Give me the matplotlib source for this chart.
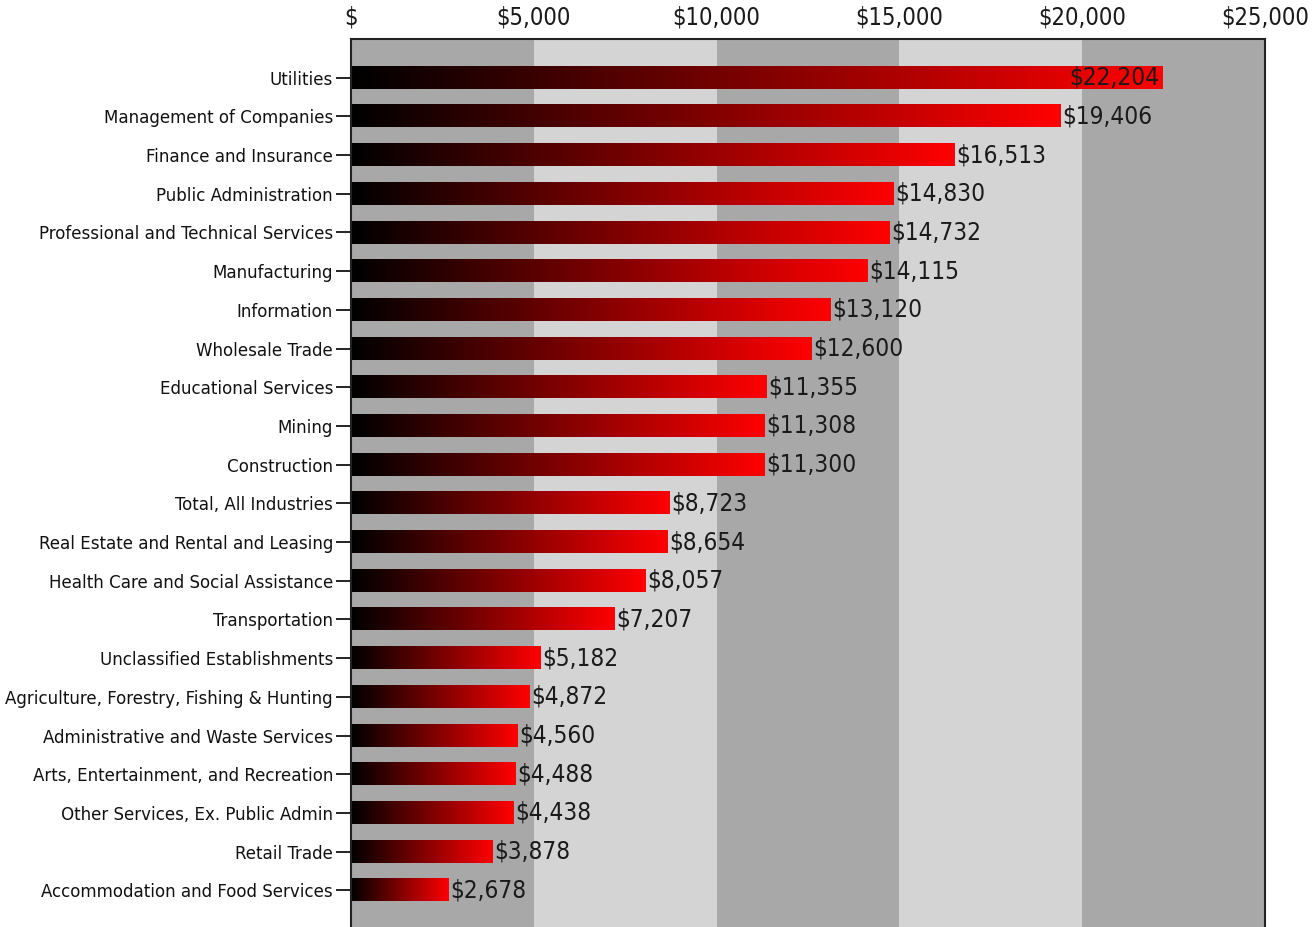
import numpy as np
import matplotlib
matplotlib.use("Agg")
import matplotlib.pyplot as plt
from matplotlib.colors import LinearSegmentedColormap
from matplotlib.ticker import FuncFormatter, MultipleLocator

plt.rcParams["font.family"] = ["DejaVu Sans"]
plt.rcParams["font.stretch"] = "condensed"

industries = [
    "Utilities",
    "Management of Companies",
    "Finance and Insurance",
    "Public Administration",
    "Professional and Technical Services",
    "Manufacturing",
    "Information",
    "Wholesale Trade",
    "Educational Services",
    "Mining",
    "Construction",
    "Total, All Industries",
    "Real Estate and Rental and Leasing",
    "Health Care and Social Assistance",
    "Transportation",
    "Unclassified Establishments",
    "Agriculture, Forestry, Fishing & Hunting",
    "Administrative and Waste Services",
    "Arts, Entertainment, and Recreation",
    "Other Services, Ex. Public Admin",
    "Retail Trade",
    "Accommodation and Food Services",
]
values = [22204, 19406, 16513, 14830, 14732, 14115, 13120, 12600, 11355, 11308,
          11300, 8723, 8654, 8057, 7207, 5182, 4872, 4560, 4488, 4438, 3878, 2678]

XMAX = 25000
BAND = 5000
BAR_H = 0.57
BAND_COLORS = ["#a8a8a8", "#d4d4d4"]

fade = LinearSegmentedColormap.from_list("black_red", ["#000000", "#ff0000"])
gradient = np.linspace(0, 1, 256).reshape(1, -1)


def money(v, _pos=None):
    return "$" if v == 0 else f"${v:,.0f}"


fig = plt.figure(figsize=(13.15, 9.27), dpi=100)
ax = fig.add_axes([351 / 1315, -2 / 927, 914 / 1315, 890 / 927])

# alternating background bands
for i, start in enumerate(range(0, XMAX, BAND)):
    ax.axvspan(start, start + BAND, color=BAND_COLORS[i % 2], zorder=0, lw=0)

ypos = np.arange(len(industries))
for y, v in zip(ypos, values):
    ax.imshow(gradient, cmap=fade, aspect="auto", interpolation="bilinear",
              extent=(0, v, y + BAR_H / 2, y - BAR_H / 2), zorder=2)
    if v > XMAX * 0.85:
        ax.text(v - 100, y, money(v), ha="right", va="center",
                fontsize=17.5, color="#1a1a1a", zorder=3)
    else:
        ax.text(v + 50, y, money(v), ha="left", va="center",
                fontsize=17.5, color="#1a1a1a", zorder=3)

ax.set_xlim(0, XMAX)
ax.set_ylim(len(industries), -1)
ax.set_yticks(ypos)
ax.set_yticklabels(industries, fontsize=13.3, color="#111111")
ax.tick_params(axis="y", length=11, width=1.2, pad=2)

ax.xaxis.set_major_locator(MultipleLocator(BAND))
ax.xaxis.set_major_formatter(FuncFormatter(money))
ax.xaxis.tick_top()
ax.tick_params(axis="x", length=0, pad=7, labelsize=17, labelcolor="#1a1a1a")

for side in ("top", "left", "right", "bottom"):
    ax.spines[side].set_linewidth(1.5)
    ax.spines[side].set_color("#222222")

fig.savefig("out.png", dpi=100)
